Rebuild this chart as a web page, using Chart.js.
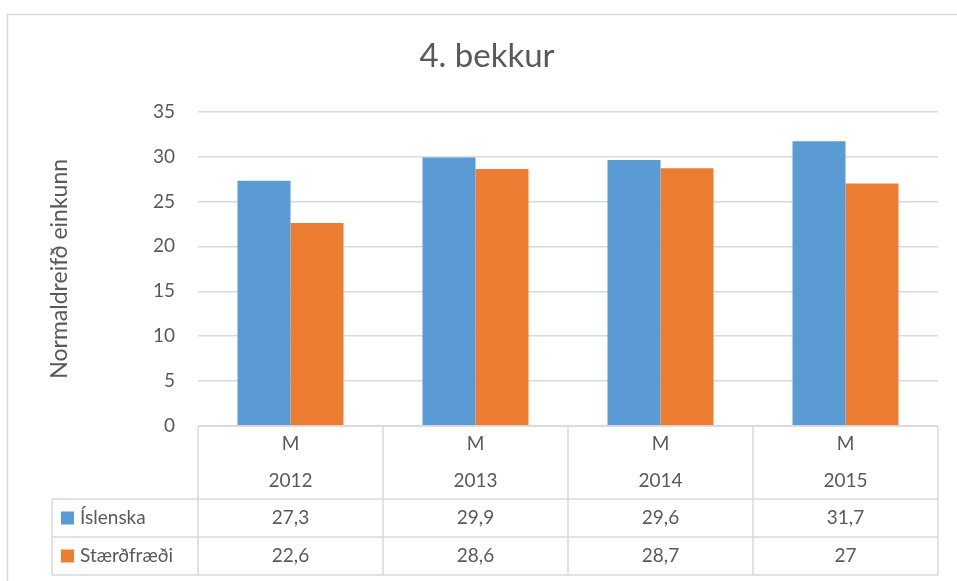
<!DOCTYPE html>
<html>
<head>
<meta charset="utf-8">
<script src="https://cdn.jsdelivr.net/npm/chart.js@4/dist/chart.umd.min.js"></script>
<style>
  html, body { margin: 0; padding: 0; background: #fff; }
  #wrap { position: absolute; left: 0; top: 0; width: 957px; height: 581px; }
</style>
</head>
<body>
<div id="wrap"><canvas id="chart" width="957" height="581"></canvas></div>
<script>
const years = ['2012', '2013', '2014', '2015'];
const groupLabels = ['M', 'M', 'M', 'M'];
const seriesNames = ['Íslenska', 'Stærðfræði'];
const islenska = [27.3, 29.9, 29.6, 31.7];
const staerdfraedi = [22.6, 28.6, 28.7, 27];
const yTicks = [0, 5, 10, 15, 20, 25, 30, 35];

const FONT = 'Lato, "Noto Sans", sans-serif';
const TEXT = '#595959';
const LINE = '#d9d9d9';
const colors = ['#5B9BD5', '#ED7D31'];

function fmt(v) {
  return String(v).replace('.', ',');
}

// draws the outer frame and the data table under the plot
const tablePlugin = {
  id: 'dataTable',
  beforeDraw(chart) {
    const c = chart.ctx;
    c.save();
    c.strokeStyle = LINE;
    c.lineWidth = 1.5;
    c.beginPath();
    c.moveTo(7.5, 600);
    c.lineTo(7.5, 14.5);
    c.lineTo(960, 14.5);
    c.stroke();
    c.restore();
  },
  afterDraw(chart) {
    const c = chart.ctx;
    const xs = chart.scales.x;
    const area = chart.chartArea;
    const step = xs.getPixelForValue(1) - xs.getPixelForValue(0);
    const top = area.bottom;
    const hdrBottom = top + 73;
    const rowH = 38;
    const tableLeft = 52;
    const bottom = hdrBottom + rowH * 2;
    const series = chart.data.datasets;

    c.save();
    c.strokeStyle = LINE;
    c.lineWidth = 1.5;
    c.beginPath();
    // horizontal lines
    c.moveTo(area.left, top); c.lineTo(area.right, top);
    for (let r = 0; r <= 2; r++) {
      const y = hdrBottom + r * rowH;
      c.moveTo(tableLeft, y); c.lineTo(area.right, y);
    }
    // vertical lines
    c.moveTo(tableLeft, hdrBottom); c.lineTo(tableLeft, bottom);
    for (let i = 0; i <= years.length; i++) {
      const x = xs.getPixelForValue(0) - step / 2 + i * step;
      c.moveTo(x, top); c.lineTo(x, bottom);
    }
    c.stroke();

    c.fillStyle = TEXT;
    c.font = '19px ' + FONT;
    c.textAlign = 'center';
    c.textBaseline = 'middle';
    years.forEach((yr, i) => {
      const x = xs.getPixelForValue(i);
      c.fillText(groupLabels[i], x, top + 18);
      c.fillText(yr, x, top + 55);
      series.forEach((ds, s) => {
        c.fillText(fmt(ds.data[i]), x, hdrBottom + rowH * s + rowH / 2);
      });
    });

    series.forEach((ds, s) => {
      const cy = hdrBottom + rowH * s + rowH / 2;
      c.fillStyle = ds.backgroundColor;
      c.fillRect(61, cy - 6.5, 13, 13);
      c.fillStyle = TEXT;
      c.textAlign = 'left';
      c.fillText(ds.label, 80, cy);
    });
    c.restore();
  }
};

new Chart(document.getElementById('chart'), {
  type: 'bar',
  data: {
    labels: years,
    datasets: [
      { label: seriesNames[0], data: islenska, backgroundColor: colors[0] },
      { label: seriesNames[1], data: staerdfraedi, backgroundColor: colors[1] }
    ]
  },
  options: {
    responsive: false,
    animation: false,
    layout: { padding: { top: 20, right: 19, bottom: 155, left: 36 } },
    datasets: { bar: { categoryPercentage: 0.573, barPercentage: 1 } },
    plugins: {
      legend: { display: false },
      tooltip: { enabled: false },
      title: {
        display: true,
        text: '4. bekkur',
        color: TEXT,
        font: { family: FONT, size: 33, weight: 'normal' },
        padding: { top: 17, bottom: 35 }
      }
    },
    scales: {
      x: {
        display: false,
        grid: { display: false }
      },
      y: {
        min: 0,
        max: 35,
        afterFit(scale) { scale.width = 162; },
        afterBuildTicks(scale) { scale.ticks = yTicks.map(v => ({ value: v })); },
        border: { display: false },
        grid: { color: LINE, lineWidth: 1.5, drawTicks: false },
        ticks: {
          color: TEXT,
          padding: 23,
          font: { family: FONT, size: 19 }
        },
        title: {
          display: true,
          text: 'Normaldreifð einkunn',
          color: TEXT,
          font: { family: FONT, size: 23 },
          padding: { top: 10 }
        }
      }
    }
  },
  plugins: [tablePlugin]
});
</script>
</body>
</html>
